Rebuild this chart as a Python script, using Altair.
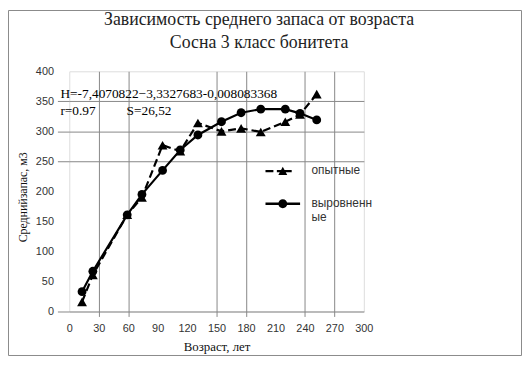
import altair as alt
import pandas as pd

# ---- data ----
ages = [13, 24, 59, 74, 95, 113, 131, 155, 175, 195, 220, 235, 252]
experimental = [16, 61, 161, 190, 277, 267, 314, 300, 305, 299, 316, 328, 362]
fitted = [33, 67, 161, 195, 235, 269, 294, 316, 331, 337, 337, 330, 319]
series_names = ["опытные", "выровненные"]
title_lines = ["Зависимость среднего запаса от возраста", "Сосна 3 класс бонитета"]
annotation_texts = ["H=-7,4070822−3,3327683-0,008083368", "r=0.97", "S=26,52"]
x_ticks = [0, 30, 60, 90, 120, 150, 180, 210, 240, 270, 300]
y_ticks = [0, 50, 100, 150, 200, 250, 300, 350, 400]
x_grid = [30, 60, 150, 180, 240, 270]
y_grid = [250, 300, 350]
y_marked = [0, 250, 300, 350]

df = pd.DataFrame({"age": ages, "exp": experimental, "fit": fitted})
legend_df = pd.DataFrame({"series": series_names})

GRAY = "#878787"


def cond(values, on, off):
    test = "indexof([" + ",".join(str(v) for v in values) + "], datum.value) >= 0"
    return {"condition": {"test": test, "value": on}, "value": off}


x_axis = alt.Axis(
    values=x_ticks, title="Возраст, лет", grid=True,
    gridOpacity=cond(x_grid, 1, 0), gridColor=GRAY, gridWidth=1,
    ticks=True, tickSize=5, tickColor=GRAY, tickWidth=1, tickOpacity=cond(x_grid, 1, 0),
    domain=True, domainColor=GRAY, domainWidth=1,
    labelFont="Liberation Sans", labelFontSize=11, labelColor="#333", labelPadding=6,
    labelFlush=False,
    titleFont="Liberation Serif", titleFontSize=13, titleFontWeight="normal",
    titleColor="#111", titleY=35, titleBaseline="middle",
)
y_axis = alt.Axis(
    values=y_ticks, title="Среднийзапас, м3", grid=True,
    gridOpacity=cond(y_grid, 1, 0), gridColor=GRAY, gridWidth=1,
    ticks=True, tickSize=12, tickColor=GRAY, tickWidth=1, tickOpacity=cond(y_marked, 1, 0),
    domain=False,
    labelFont="Liberation Sans", labelFontSize=11, labelColor="#333", labelPadding=4,
    labelFlush=False,
    titleFont="Liberation Serif", titleFontSize=12, titleFontWeight="normal",
    titleColor="#111", titleAngle=270, titleX=-47, titleY=127,
    titleAlign="center", titleBaseline="middle",
)

x_enc = alt.X("age:Q", scale=alt.Scale(domain=[0, 300], nice=False, zero=False), axis=x_axis)
y_scale = alt.Scale(domain=[0, 400], nice=False)

base = alt.Chart(df)
exp_line = base.mark_line(color="black", strokeWidth=2.2, strokeDash=[8, 4]).encode(
    x=x_enc, y=alt.Y("exp:Q", scale=y_scale, axis=y_axis))
exp_pts = base.mark_point(shape="triangle-up", filled=True, color="black", size=100, opacity=1).encode(
    x=x_enc, y=alt.Y("exp:Q", scale=y_scale, axis=y_axis))
fit_line = base.mark_line(color="black", strokeWidth=2.2).encode(
    x=x_enc, y=alt.Y("fit:Q", scale=y_scale, axis=y_axis))
fit_pts = base.mark_point(shape="circle", filled=True, color="black", size=80, opacity=1).encode(
    x=x_enc, y=alt.Y("fit:Q", scale=y_scale, axis=y_axis))

# legend symbols: line + marker drawn as filled custom symbol paths
path_exp = ("M-1.75,0.48H-0.95V0.72H-1.75Z"
            "M-0.6,0.48H0.9V0.72H-0.6Z"
            "M0,0.15L0.45,1.0L-0.45,1.0Z")
path_fit = ("M-1.75,0.48H1.75V0.72H-1.75Z"
            "M0.45,0.6A0.45,0.45,0,1,1,-0.45,0.6A0.45,0.45,0,1,1,0.45,0.6Z")
legend_layer = alt.Chart(legend_df).mark_point(
    filled=True, color="black", opacity=1
).encode(
    shape=alt.Shape(
        "series:N",
        scale=alt.Scale(domain=series_names, range=[path_exp, path_fit]),
        legend=alt.Legend(
            title=None, orient="none", legendX=205, legendY=84,
            symbolSize=400, symbolFillColor="black", symbolOpacity=1,
            labelFont="Liberation Sans", labelFontSize=12, labelColor="#333",
            labelOffset=18, labelBaseline="top", labelLimit=200,
            labelExpr="datum.label == 'выровненные' ? ['выровненн', 'ые'] : datum.label",
            rowPadding=9, padding=0,
        ),
    )
).transform_filter("false")

ann_font = dict(font="Liberation Serif", fontSize=13.5, color="#000", align="left", baseline="alphabetic")
ann_df = pd.DataFrame({"t": annotation_texts})
ann1 = alt.Chart(ann_df).transform_filter(alt.datum.t == annotation_texts[0]).mark_text(**ann_font).encode(
    text="t:N", x=alt.value(-9), y=alt.value(27))
ann2 = alt.Chart(ann_df).transform_filter(alt.datum.t == annotation_texts[1]).mark_text(**ann_font).encode(
    text="t:N", x=alt.value(-9), y=alt.value(44))
ann3 = alt.Chart(ann_df).transform_filter(alt.datum.t == annotation_texts[2]).mark_text(**ann_font).encode(
    text="t:N", x=alt.value(58), y=alt.value(44))

frame = alt.Chart(pd.DataFrame({"f": [0]})).mark_rect(
    fill="transparent", stroke="#8a8a8a", strokeWidth=1
).encode(x=alt.value(-61.5), x2=alt.value(457.5), y=alt.value(-61.5), y2=alt.value(287.5))

chart = alt.layer(
    frame, exp_line, exp_pts, fit_line, fit_pts, legend_layer, ann1, ann2, ann3
).properties(
    width=298, height=243,
    title=alt.TitleParams(
        title_lines, font="Liberation Serif", fontSize=18, fontWeight="normal",
        color="#222", anchor="middle", frame="group", baseline="bottom",
        dx=43, offset=-60.5, lineHeight=23,
    ),
    autosize=alt.AutoSizeParams(type="none"),
    padding={"left": 62, "top": 62, "right": 160, "bottom": 45},
).resolve_scale(shape="independent").configure_view(stroke=None).configure(background="white")

chart.save("out.html", embed_options={"renderer": "svg", "actions": False})
